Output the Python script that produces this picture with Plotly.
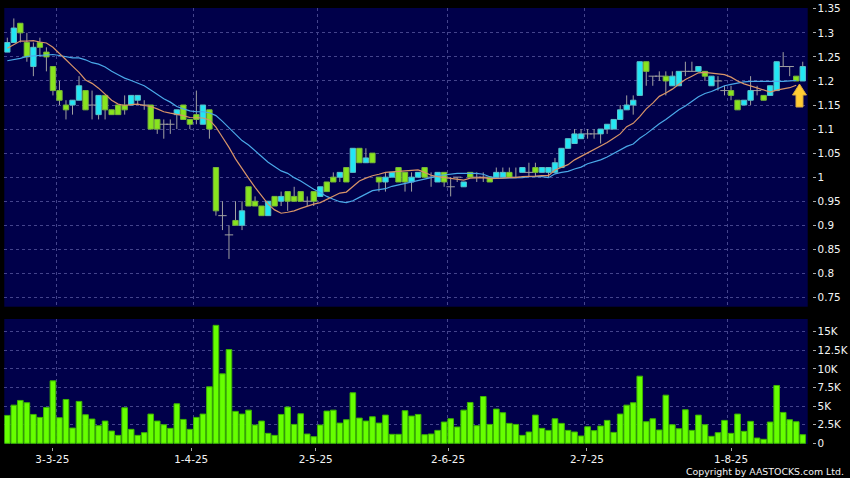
import plotly.graph_objects as go

opens = [1.26,1.28,1.32,1.28,1.23,1.28,1.26,1.23,1.18,1.15,1.15,1.16,1.18,1.15,1.13,1.17,1.14,1.15,1.15,1.15,1.16,1.15,1.15,1.12,1.11,1.11,1.13,1.15,1.12,1.13,1.11,1.14,
         1.02,.92,.88,.91,.90,.98,.95,.94,.92,.96,.95,.97,.96,.97,.95,.97,.96,.99,1.00,1.00,1.02,1.01,1.06,1.03,1.05,
         1.00,.99,1.00,1.02,1.01,.99,1.00,1.02,1.00,.99,1.01,.98,1.00,.98,1.01,1.00,1.00,1.00,1.00,1.00,1.01,1.00,1.01,1.01,1.02,1.01,1.01,
         1.01,1.02,1.06,1.07,1.08,1.09,1.09,1.09,1.10,1.10,1.12,1.14,1.15,1.17,1.24,1.21,1.21,1.21,1.19,1.19,1.22,1.22,1.22,1.22,1.19,1.20,1.18,1.18,1.16,1.15,1.16,1.18,1.17,1.17,1.18,1.23,1.23,1.21,1.20]
closes = [1.28,1.31,1.30,1.25,1.27,1.27,1.25,1.18,1.16,1.14,1.16,1.19,1.14,1.15,1.17,1.14,1.13,1.13,1.14,1.17,1.17,1.15,1.10,1.10,1.11,1.11,1.14,1.12,1.11,1.12,1.15,1.10,
          .93,.92,.88,.90,.93,.94,.94,.92,.95,.94,.96,.95,.95,.95,.95,.95,.98,.97,.99,1.01,.99,1.06,1.03,1.04,1.03,
          .99,1.00,1.01,.99,.99,1.00,1.01,1.00,1.00,1.01,.99,.98,1.00,.99,1.00,1.00,1.00,.99,1.01,1.01,1.00,1.00,1.02,1.01,1.01,1.02,1.02,
          1.03,1.06,1.08,1.09,1.09,1.09,1.09,1.10,1.11,1.12,1.14,1.15,1.16,1.24,1.22,1.21,1.21,1.20,1.21,1.22,1.22,1.22,1.23,1.21,1.21,1.20,1.18,1.17,1.14,1.16,1.18,1.18,1.16,1.19,1.24,1.23,1.23,1.20,1.23]
highs = [1.29,1.33,1.32,1.30,1.28,1.29,1.27,1.23,1.20,1.16,1.16,1.21,1.18,1.18,1.17,1.17,1.14,1.15,1.17,1.17,1.17,1.16,1.15,1.12,1.12,1.12,1.14,1.15,1.12,1.18,1.15,1.14,
         1.02,.95,.90,.95,.95,.98,.96,.94,.95,.96,.97,.97,.98,.97,.96,.97,.98,.99,1.01,1.01,1.02,1.06,1.06,1.06,1.05,
         1.00,1.01,1.01,1.02,1.01,1.01,1.01,1.02,1.01,1.01,1.01,1.00,1.00,.99,1.01,1.01,1.01,1.00,1.02,1.02,1.02,1.02,1.02,1.03,1.03,1.02,1.02,
         1.04,1.06,1.08,1.10,1.10,1.10,1.10,1.10,1.11,1.12,1.15,1.17,1.17,1.24,1.24,1.21,1.22,1.22,1.22,1.22,1.24,1.24,1.23,1.22,1.21,1.21,1.19,1.19,1.16,1.16,1.21,1.19,1.17,1.19,1.24,1.26,1.23,1.21,1.24]
lows = [1.26,1.28,1.28,1.24,1.21,1.25,1.22,1.17,1.15,1.12,1.13,1.16,1.14,1.12,1.12,1.12,1.13,1.13,1.13,1.15,1.15,1.14,1.10,1.09,1.08,1.09,1.10,1.12,1.10,1.11,1.11,1.08,
        .92,.89,.83,.90,.89,.94,.94,.92,.92,.94,.94,.93,.95,.95,.94,.94,.96,.97,.99,.99,.99,1.01,1.03,1.03,1.03,
        .97,.97,1.00,.99,.97,.97,1.00,1.00,.98,.99,.98,.96,.99,.98,1.00,.99,.99,.99,1.00,1.00,1.00,1.00,1.01,1.00,1.00,1.01,1.00,
        1.01,1.02,1.06,1.07,1.08,1.08,1.08,1.07,1.09,1.10,1.12,1.14,1.13,1.17,1.19,1.19,1.20,1.17,1.19,1.19,1.21,1.22,1.22,1.20,1.19,1.18,1.17,1.16,1.14,1.15,1.15,1.17,1.16,1.17,1.18,1.23,1.21,1.20,1.20]

ma_short = [1.268,1.276,1.283,1.283,1.284,1.281,1.279,1.270,1.258,1.244,1.231,1.218,1.202,1.195,1.185,1.173,1.160,1.152,1.149,1.151,1.152,1.149,1.147,1.142,1.136,1.133,1.131,1.128,1.124,1.124,1.123,1.119,
            1.104,1.083,1.062,1.038,1.017,.998,.979,.961,.944,.932,
            .925,.927,.930,.935,.940,.944,.947,.954,.960,.967,.969,.980,.992,.998,1.003,1.006,1.010,1.011,1.012,1.013,1.013,1.015,1.010,1.004,1.001,.999,.997,.996,.994,.998,.999,.999,.997,.997,.998,.999,.999,1.001,1.001,1.002,1.003,1.003,
            1.015,1.021,1.026,1.036,1.043,1.050,1.057,1.065,1.072,1.081,1.090,1.105,1.112,1.126,1.142,1.154,1.168,1.175,1.183,1.193,1.203,1.210,1.217,1.218,1.216,1.215,1.213,1.208,1.200,1.194,1.190,1.185,1.181,1.177,1.181,1.183,1.186,1.191]
ma_long = [1.242,1.244,1.247,1.251,1.252,1.252,1.254,1.255,1.253,1.251,1.248,1.248,1.244,1.238,1.235,1.229,1.220,1.213,1.206,1.201,1.195,1.190,1.181,1.172,1.163,1.156,1.147,1.142,1.138,1.136,1.136,1.134,
           1.128,1.116,1.102,1.088,1.076,1.067,1.056,1.043,1.031,1.022,
           1.013,1.008,.999,.992,.983,.975,.968,.960,.954,.949,.947,.951,.958,.965,.972,.974,.976,.981,.984,.987,.990,.992,.995,.999,1.003,1.005,1.006,1.008,1.008,1.008,1.008,1.006,1.001,.998,.998,.998,.998,.999,1.001,1.001,1.001,.999,
           1.007,1.010,1.012,1.017,1.021,1.028,1.032,1.036,1.042,1.049,1.057,1.064,1.069,1.081,1.090,1.101,1.111,1.120,1.131,1.140,1.148,1.158,1.167,1.174,1.178,1.184,1.190,1.193,1.196,1.198,1.199,1.199,1.199,1.198,1.198,1.199,1.200,1.201]
volumes = [3.75,5.13,5.76,5.45,3.88,3.48,4.82,8.39,3.44,5.89,2.05,5.63,3.84,3.26,2.37,2.99,1.65,1.07,4.78,1.88,1.07,1.43,3.93,2.99,2.5,2.01,5.31,3.21,1.88,3.48,3.93,7.59,15.85,9.33,12.59,4.29,3.93,4.46,2.46,2.99,1.34,1.07,
           3.88,4.87,2.54,3.97,1.25,.89,2.46,4.33,4.46,2.72,3.17,6.79,3.39,2.99,3.57,2.72,3.79,1.21,1.21,4.38,3.66,3.88,1.16,1.25,1.74,2.86,3.30,2.19,4.46,5.49,2.37,6.29,2.54,4.60,4.11,2.68,2.54,1.07,1.52,3.79,2.01,1.74,
           3.30,2.68,1.74,1.52,.98,2.23,1.70,2.32,3.08,1.47,3.93,5.13,5.45,9.02,2.90,3.30,1.79,6.47,2.50,1.96,4.51,1.74,3.79,2.50,.94,1.43,3.08,1.34,3.93,1.61,2.95,.71,.54,2.86,7.77,4.15,3.17,2.90,1.16]

price_ticks = [.75,.8,.85,.9,.95,1,1.05,1.1,1.15,1.2,1.25,1.3,1.35]
price_labels = ["0.75","0.8","0.85","0.9","0.95","1","1.05","1.1","1.15","1.2","1.25","1.3","1.35"]
vol_ticks = [0,2.5,5,7.5,10,12.5,15]
vol_labels = ["0","2.5K","5K","7.5K","10K","12.5K","15K"]
grid_positions = [7.5,28.5,47.5,67.5,88.6,110.5]
date_positions = [6.9,28.2,47.3,67.6,88.9,111]
date_labels = ["3-3-25","1-4-25","2-5-25","2-6-25","2-7-25","1-8-25"]

W, H = 850, 478
L, R = 4.3, 807.7
XR = [-0.46, 122.76]
GRID = "#44448c"
TXT = "#f4f4f4"
FONT = "DejaVu Sans"
TICKSZ = 10.4
idx = list(range(len(closes)))

solid = [i for i in idx if closes[i] != opens[i]]
doji = [i for i in idx if closes[i] == opens[i]]

fig = go.Figure()
fig.add_trace(go.Bar(x=idx, y=highs, width=0.15,
                     marker=dict(color="rgba(0,0,0,0)", line=dict(width=0)),
                     error_y=dict(type="data", symmetric=False, array=[0] * len(idx),
                                  arrayminus=[h - l for h, l in zip(highs, lows)],
                                  thickness=1, width=0, color="#a0a0a0"),
                     xaxis="x", yaxis="y", hoverinfo="skip"))
fig.add_trace(go.Bar(x=solid, base=[min(opens[i], closes[i]) for i in solid],
                     y=[abs(closes[i] - opens[i]) for i in solid], width=0.82,
                     marker=dict(color=["#22e6f4" if closes[i] > opens[i] else "#88e41e" for i in solid],
                                 line=dict(width=1, color=["#5cc0c8" if closes[i] > opens[i] else "#78b838" for i in solid])),
                     xaxis="x", yaxis="y"))
fig.add_trace(go.Scatter(x=doji, y=[closes[i] for i in doji], mode="markers",
                         marker=dict(symbol="line-ew", size=6, line=dict(width=1, color="#a0a0a0")),
                         xaxis="x", yaxis="y"))
fig.add_trace(go.Scatter(x=idx[:len(ma_long)], y=ma_long, mode="lines", line=dict(color="#4aa8e8", width=1.2), xaxis="x", yaxis="y"))
fig.add_trace(go.Scatter(x=idx[:len(ma_short)], y=ma_short, mode="lines", line=dict(color="#d89468", width=1.2), xaxis="x", yaxis="y"))
fig.add_trace(go.Bar(x=idx, y=volumes, width=0.86,
                     marker=dict(color="#66ff00", line=dict(width=1, color="#3cb400")), xaxis="x2", yaxis="y2"))
fig.add_trace(go.Scatter(x=date_positions, y=[0] * len(date_positions), mode="markers",
                         marker=dict(opacity=0), xaxis="x3", yaxis="y2", hoverinfo="skip"))

def ax_common():
    return dict(showline=False, zeroline=False)

fig.update_layout(
    width=W, height=H, margin=dict(l=0, r=0, t=0, b=0, autoexpand=False), autosize=False,
    paper_bgcolor="#000000", plot_bgcolor="#00004a", showlegend=False, barmode="overlay",
    font=dict(family=FONT, color=TXT, size=11),
    xaxis=dict(domain=[L / W, R / W], range=XR, anchor="y", tickmode="array", tickvals=grid_positions,
               showticklabels=False, ticks="", showgrid=True, gridcolor=GRID, griddash="3px,3px", gridwidth=1, **ax_common()),
    xaxis2=dict(domain=[L / W, R / W], range=XR, anchor="y2", tickmode="array", tickvals=grid_positions,
                showticklabels=False, ticks="", showgrid=True, gridcolor=GRID, griddash="3px,3px", gridwidth=1, **ax_common()),
    xaxis3=dict(overlaying="x2", anchor="free", position=1 - 446.5 / H, side="bottom", range=XR, tickmode="array",
                tickvals=date_positions, ticktext=date_labels, ticks="outside", ticklen=3, tickcolor="#aaaaaa",
                showgrid=False, tickfont=dict(size=TICKSZ, color=TXT, family=FONT), **ax_common()),
    yaxis=dict(domain=[1 - 306.7 / H, 1 - 8 / H], range=[0.7307, 1.3517], anchor="free", position=811.5 / W, side="right",
               tickmode="array", tickvals=price_ticks, ticktext=price_labels, ticks="outside", ticklen=3, tickcolor="#aaaaaa",
               showgrid=True, gridcolor=GRID, griddash="3px,3px", gridwidth=1, tickfont=dict(size=TICKSZ, color=TXT, family=FONT), **ax_common()),
    yaxis2=dict(domain=[1 - 444 / H, 1 - 319 / H], range=[-0.09, 16.7], anchor="free", position=811.5 / W, side="right",
                tickmode="array", tickvals=vol_ticks, ticktext=vol_labels, ticks="outside", ticklen=3, tickcolor="#aaaaaa",
                showgrid=True, gridcolor=GRID, griddash="3px,3px", gridwidth=1, tickfont=dict(size=TICKSZ, color=TXT, family=FONT), **ax_common()),
    annotations=[dict(text="Copyright by AASTOCKS.com Ltd.", xref="paper", yref="paper", x=846 / W, y=1 - 471 / H,
                      xanchor="right", yanchor="middle", showarrow=False, font=dict(size=9.4, color=TXT, family=FONT))],
    shapes=[dict(type="path", xref="x", yref="y", xsizemode="pixel", ysizemode="pixel", xanchor=121.5, yanchor=1.1937,
                 path="M 0 0 L 7 -11 L 3.5 -11 L 3.5 -23 L -3.5 -23 L -3.5 -11 L -7 -11 Z",
                 fillcolor="#ffcc33", line=dict(color="#d8a840", width=1))],
)
fig.write_html("out.html", config=dict(displayModeBar=False),
               post_script="document.body.style.margin='0';document.body.style.background='#000';document.body.style.overflow='hidden';")
